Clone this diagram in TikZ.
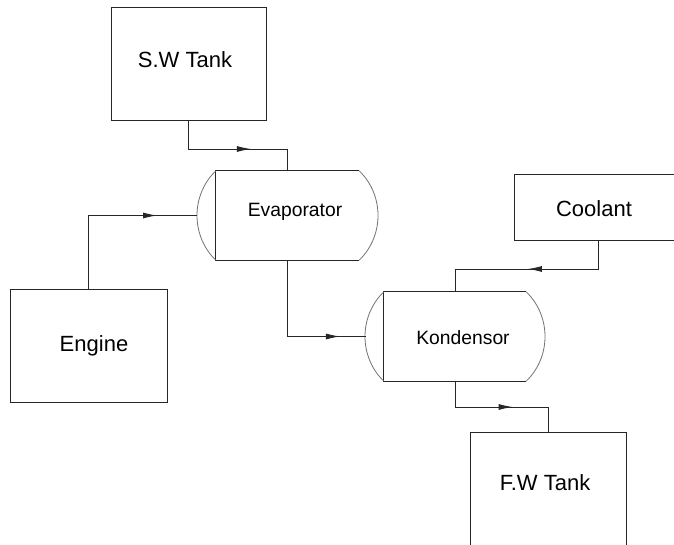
\documentclass[tikz,border=0pt]{standalone}
\usepackage{fontspec}
\setmainfont{Liberation Sans}
\usetikzlibrary{arrows.meta,calc}
\begin{document}
\begin{tikzpicture}[x=1pt,y=-1pt,
  box/.style={draw=black!85, line width=0.9pt, inner sep=0pt},
  vessel/.style={inner sep=0pt},
  lbl/.style={font=\fontsize{22}{26}\selectfont, inner sep=0pt},
  slbl/.style={font=\fontsize{19.3}{23}\selectfont, inner sep=0pt},
  flow/.style={draw=black!85, line width=0.9pt},
  tip/.style={flow, -{Latex[length=14pt,width=6pt]}},
  endcap/.style={draw=black!55, line width=0.8pt}
]
\useasboundingbox (0,0) rectangle (674,545);
\fill[white] (0,0) rectangle (674,545);

% boxes
\node[box, minimum width=155pt, minimum height=113pt] (sw) at (188.5,63.5) {};
\node[lbl] (swt) at (185,60) {S.W Tank};

\node[box, minimum width=157pt, minimum height=113pt] (eng) at (88.5,345.5) {};
\node[lbl] (engt) at (94,346) {Engine};

\node[vessel, minimum width=143pt, minimum height=89pt] (evap) at (287.5,215.5) {};
\draw[flow] (evap.north east) -- (evap.north west) -- (evap.south west) -- (evap.south east);
\node[slbl] (evapt) at (295,212) {Evaporator};
\draw[endcap] (evap.north west) to[bend right=46] (evap.south west);
\draw[endcap] (evap.north east) to[bend left=46] (evap.south east);
\coordinate (evapL) at ($(evap.west)+(-18.5,0)$);

\node[vessel, minimum width=142pt, minimum height=89pt] (kond) at (455,336.5) {};
\draw[flow] (kond.north east) -- (kond.north west) -- (kond.south west) -- (kond.south east);
\node[slbl] (kondt) at (463,338) {Kondensor};
\draw[endcap] (kond.north west) to[bend right=46] (kond.south west);
\draw[endcap] (kond.north east) to[bend left=46] (kond.south east);
\coordinate (kondL) at ($(kond.west)+(-18,0)$);

\node[box, minimum width=162pt, minimum height=66pt] (cool) at (595,207) {};
\node[lbl] (coolt) at (594,209) {Coolant};

\node[box, minimum width=156pt, minimum height=130pt] (fw) at (548,497) {};
\node[lbl] (fwt) at (545,483) {F.W Tank};

% connectors
\coordinate (h1) at (0,149);
\draw[flow] (sw.south) -- (sw.south |- h1) -- (evap.north |- h1) -- (evap.north);
\draw[tip] (sw.south |- h1) -- ($(sw.south |- h1)!0.63!(evap.north |- h1)$);

\draw[flow] (eng.north) -- (eng.north |- evapL) -- (evapL);
\draw[tip] (eng.north |- evapL) -- ($(eng.north |- evapL)!0.63!(evapL)$);

\draw[flow] (evap.south) -- (evap.south |- kondL) -- (kondL);
\draw[tip] (evap.south |- kondL) -- ($(evap.south |- kondL)!0.67!(kondL)$);

\coordinate (cs) at ($(cool.south)+(3,0)$);
\coordinate (h3) at (0,269);
\draw[flow] (cs) -- (cs |- h3) -- (kond.north |- h3) -- (kond.north);
\draw[tip] (cs |- h3) -- ($(cs |- h3)!0.49!(kond.north |- h3)$);

\coordinate (h4) at (0,407);
\draw[flow] (kond.south) -- (kond.south |- h4) -- (fw.north |- h4) -- (fw.north);
\draw[tip] (kond.south |- h4) -- ($(kond.south |- h4)!0.62!(fw.north |- h4)$);
\end{tikzpicture}
\end{document}
